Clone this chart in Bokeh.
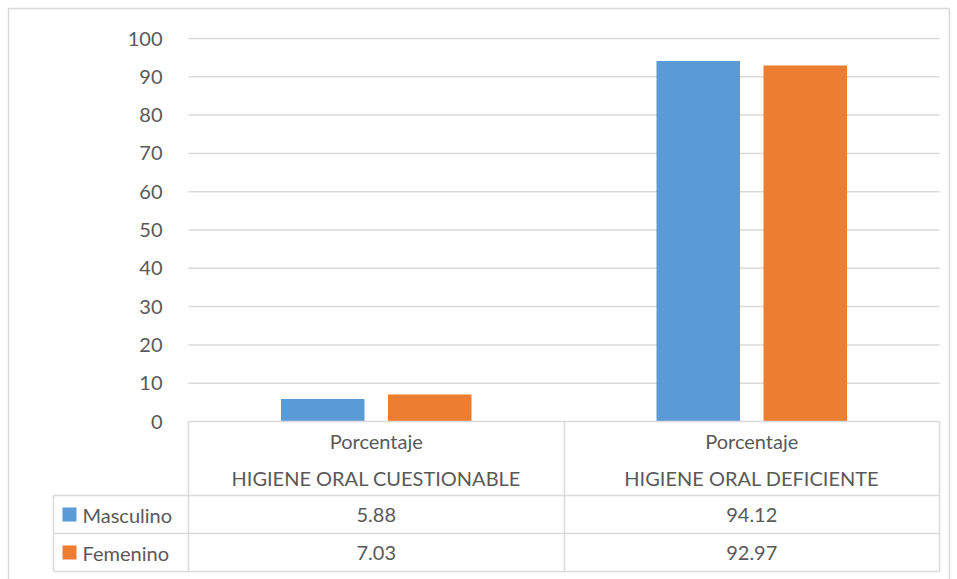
from bokeh.plotting import figure
from bokeh.models import LinearAxis, FixedTicker, Range1d
from bokeh.core.properties import value
from bokeh.embed import file_html
from bokeh.resources import INLINE

# ---- data ----
categories = ["HIGIENE ORAL CUESTIONABLE", "HIGIENE ORAL DEFICIENTE"]
header_label = "Porcentaje"
series_names = ["Masculino", "Femenino"]
masculino = [5.88, 94.12]
femenino = [7.03, 92.97]
y_ticks = [0, 10, 20, 30, 40, 50, 60, 70, 80, 90, 100]

colors = ["#5B9BD5", "#ED7D31"]
text_color = "#595959"
line_color = "#D9D9D9"
FONT = "Lato"
FS = "20px"

W, H = 957, 579
# layout mapping: plot area in pixels
PX_L, PX_R = 188, 939
PY_T, PY_B = 38, 421
ncat = len(categories)
xs = (PX_R - PX_L) / ncat       # px per category unit
ys = (PY_B - PY_T) / 100.0      # px per value unit


def X(px):
    return (px - PX_L) / xs


def Y(py):
    return (PY_B - py) / ys


p = figure(width=W, height=H, output_backend="svg", toolbar_location=None,
           x_axis_type=None, y_axis_type=None,
           x_range=Range1d(X(0), X(W)), y_range=Range1d(Y(H), Y(0)),
           min_border=0, min_border_left=0, min_border_right=0,
           min_border_top=0, min_border_bottom=0)
p.outline_line_color = None
p.background_fill_color = "white"
p.border_fill_color = "white"
p.xgrid.visible = False
p.ygrid.visible = False

# outer chart border
p.quad(left=X(8), right=X(949), top=Y(8), bottom=Y(600),
       fill_color=None, line_color=line_color, line_width=1.5)

# gridlines
grid_y = [t for t in y_ticks if t > 0]
p.segment(x0=[0] * len(grid_y), x1=[ncat] * len(grid_y), y0=grid_y, y1=grid_y,
          line_color=line_color, line_width=1.5)

# bars
bar_w = 83.5 / xs
off = 53.5 / xs
centers = [i + 0.5 for i in range(ncat)]
for k, vals in enumerate([masculino, femenino]):
    sgn = -1 if k == 0 else 1
    p.vbar(x=[c + sgn * off for c in centers], top=vals, bottom=0, width=bar_w,
           fill_color=colors[k], line_color=None)

# y axis
ax = LinearAxis(ticker=FixedTicker(ticks=y_ticks))
ax.fixed_location = 0
ax.bounds = (0, 100)
ax.axis_line_color = None
ax.major_tick_line_color = None
ax.minor_tick_line_color = None
ax.major_label_standoff = 20
ax.major_label_text_font = FONT
ax.major_label_text_font_size = FS
ax.major_label_text_color = text_color
p.add_layout(ax, "left")

# data table lines
hx0 = [X(188), X(53), X(53), X(53)]
hx1 = [X(939)] * 4
hy = [Y(421), Y(495), Y(533), Y(571)]
p.segment(x0=hx0, x1=hx1, y0=hy, y1=hy, line_color=line_color, line_width=1.5)
vx = [X(188), X(564), X(939), X(53)]
vy0 = [Y(421), Y(421), Y(421), Y(495)]
vy1 = [Y(571)] * 4
p.segment(x0=vx, x1=vx, y0=vy0, y1=vy1, line_color=line_color, line_width=1.5)

# header text
p.text(x=centers, y=[Y(440)] * ncat, text=[header_label] * ncat,
       text_align="center", text_baseline="middle", text_font=value(FONT),
       text_font_size=FS, text_color=text_color)
p.text(x=centers, y=[Y(477)] * ncat, text=categories,
       text_align="center", text_baseline="middle", text_font=value(FONT),
       text_font_size=FS, text_color=text_color)

# rows
row_y = [514, 552]
for k, vals in enumerate([masculino, femenino]):
    ry = Y(row_y[k])
    p.text(x=centers, y=[ry] * ncat, text=[f"{v:.2f}" for v in vals],
           text_align="center", text_baseline="middle", text_font=value(FONT),
           text_font_size=FS, text_color=text_color)
    p.quad(left=X(62), right=X(76), top=Y(row_y[k] - 7), bottom=Y(row_y[k] + 7),
           fill_color=colors[k], line_color=None)
    p.text(x=[X(82)], y=[ry], text=[series_names[k]],
           text_align="left", text_baseline="middle", text_font=value(FONT),
           text_font_size=FS, text_color=text_color)

open("out.html", "w").write(file_html(p, INLINE))
